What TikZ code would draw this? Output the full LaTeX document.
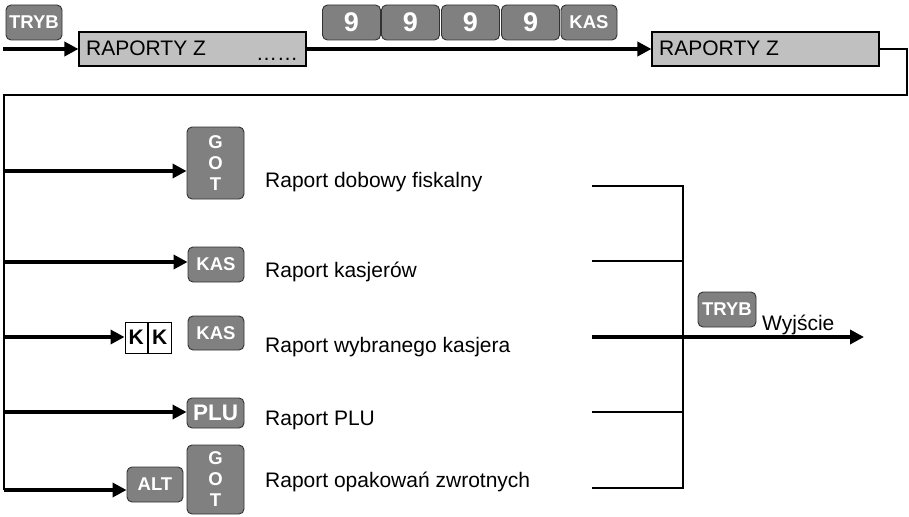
\documentclass[tikz,border=0pt]{standalone}
\usepackage{fontspec}
\setmainfont{Liberation Sans}
\usetikzlibrary{arrows.meta}
\definecolor{keyfill}{RGB}{128,128,128}
\definecolor{keydraw}{RGB}{50,50,50}
\definecolor{boxfill}{RGB}{192,192,192}
\tikzset{
  keybox/.style={draw=keydraw, line width=0.9pt, fill=keyfill, rounded corners=5pt, text=white,
     inner sep=0pt, font=\bfseries\fontsize{18.5}{21}\selectfont, align=center},
  menubox/.style={draw=black, line width=1.1pt, fill=boxfill, inner sep=0pt,
     minimum width=227pt, minimum height=34pt},
  kbox/.style={draw=black, line width=1pt, fill=white, inner sep=0pt, minimum width=22.5pt,
     minimum height=31pt, font=\bfseries\fontsize{21}{24}\selectfont},
  lbl/.style={anchor=base west, inner sep=0pt, font=\fontsize{21}{25}\selectfont},
  thickarrow/.style={line width=3.4pt, -{Triangle[length=14pt,width=14pt]}},
  thinline/.style={line width=1.3pt},
}
\begin{document}
\begin{tikzpicture}[x=1pt,y=-1pt]
\useasboundingbox (0,0) rectangle (909,516);
% top row
\node[keybox, minimum width=56pt, minimum height=35pt] (tryb1) at (34,22.5) {TRYB};
\node[menubox] (box1) at (192.5,49) {};
\node[lbl] (box1t) at (86,56) {RAPORTY Z};
\node[lbl] (dots) at (256,61) {……};
\node[keybox, minimum width=58pt, minimum height=35pt, font=\bfseries\fontsize{27}{30}\selectfont] (n1) at (351.5,22.5) {9};
\node[keybox, minimum width=58pt, minimum height=35pt, font=\bfseries\fontsize{27}{30}\selectfont] (n2) at (410.5,22.5) {9};
\node[keybox, minimum width=58pt, minimum height=35pt, font=\bfseries\fontsize{27}{30}\selectfont] (n3) at (470.5,22.5) {9};
\node[keybox, minimum width=58pt, minimum height=35pt, font=\bfseries\fontsize{27}{30}\selectfont] (n4) at (530.5,22.5) {9};
\node[keybox, minimum width=56pt, minimum height=35pt] (kas1) at (589,22.5) {KAS};
\node[menubox] (box2) at (765.5,49) {};
\node[lbl] (box2t) at (659,56) {RAPORTY Z};
\coordinate (start) at (3,49);
\draw[thickarrow] (start) -- (box1.west);
\draw[thickarrow] (box1.east) -- (box2.west);
% loop back
\coordinate (tr) at (907,49);
\coordinate (br) at (907,95);
\coordinate (bl) at (4,95);
\coordinate (c1) at (4,171);
\coordinate (c2) at (4,262);
\coordinate (c3) at (4,337);
\coordinate (c4) at (4,412);
\coordinate (c5) at (4,490);
\draw[thinline] (box2.east) -- (tr) -- (br) -- (bl) -- (c5);
% branch keys
\node[keybox, minimum width=57pt, minimum height=72pt] (got1) at (215.5,163) {G\\O\\T};
\node[keybox, minimum width=56pt, minimum height=35pt] (kas2) at (216,264.5) {KAS};
\node[kbox] (k1) at (136.25,337.5) {K};
\node[kbox, anchor=west] (k2) at (k1.east) {K};
\node[keybox, minimum width=56pt, minimum height=34pt] (kas3) at (216,333) {KAS};
\node[keybox, minimum width=57pt, minimum height=30pt, font=\bfseries\fontsize{22.5}{24}\selectfont] (plu) at (215.5,413) {PLU};
\node[keybox, minimum width=56pt, minimum height=35pt] (alt) at (155,484.5) {ALT};
\node[keybox, minimum width=57pt, minimum height=69pt] (got2) at (215.5,479.5) {G\\O\\T};
\draw[thickarrow] (c1) -- (c1 -| got1.west);
\draw[thickarrow] (c2) -- (c2 -| kas2.west);
\draw[thickarrow] (c3) -- (c3 -| k1.west);
\draw[thickarrow] (c4) -- (c4 -| plu.west);
\draw[thickarrow] (c5) -- (c5 -| alt.west);
% labels
\node[lbl] (l1) at (265,187) {Raport dobowy fiskalny};
\node[lbl] (l2) at (265,277) {Raport kasjerów};
\node[lbl] (l3) at (265,352) {Raport wybranego kasjera};
\node[lbl] (l4) at (265,425) {Raport PLU};
\node[lbl] (l5) at (265,487) {Raport opakowań zwrotnych};
% right side
\coordinate (r1) at (592,186);
\coordinate (r2) at (592,261);
\coordinate (r3) at (592,337);
\coordinate (r4) at (592,412);
\coordinate (r5) at (592,488);
\coordinate (j1) at (683,186);
\coordinate (j2) at (683,261);
\coordinate (j4) at (683,412);
\coordinate (j5) at (683,488);
\coordinate (exit) at (864,337);
\draw[thinline] (r1) -- (j1) -- (j5) -- (r5);
\draw[thinline] (r2) -- (j2);
\draw[thinline] (r4) -- (j4);
\draw[thickarrow] (r3) -- (exit);
\node[keybox, minimum width=58pt, minimum height=35pt] (tryb2) at (727,309.5) {TRYB};
\node[lbl] (wy) at (762,330) {Wyjście};
\end{tikzpicture}
\end{document}
